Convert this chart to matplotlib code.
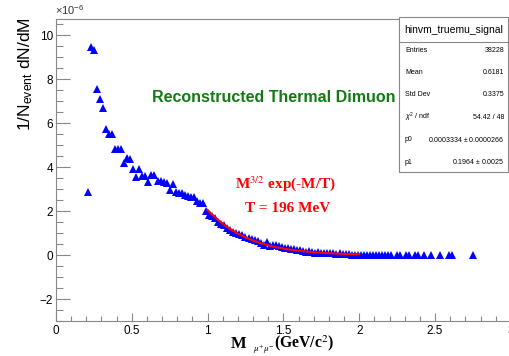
import numpy as np
import matplotlib
matplotlib.use('Agg')
import matplotlib.pyplot as plt
from matplotlib.patches import Rectangle
from matplotlib.lines import Line2D
from matplotlib.ticker import MultipleLocator

# reconstructed thermal dimuon spectrum (units of 1e-6)
mass = [0.21, 0.23, 0.25, 0.27, 0.29, 0.31, 0.33, 0.35, 0.37, 0.39,
        0.41, 0.43, 0.45, 0.47, 0.49, 0.51, 0.53, 0.55, 0.57, 0.59,
        0.61, 0.63, 0.65, 0.67, 0.69, 0.71, 0.73, 0.75, 0.77, 0.79,
        0.81, 0.83, 0.85, 0.87, 0.89, 0.91, 0.93, 0.95, 0.97, 0.99,
        1.01, 1.03, 1.05, 1.07, 1.09, 1.11, 1.13, 1.15, 1.17, 1.19,
        1.21, 1.23, 1.25, 1.27, 1.29, 1.31, 1.33, 1.35, 1.37, 1.39,
        1.41, 1.43, 1.45, 1.47, 1.49, 1.51, 1.53, 1.55, 1.57, 1.59,
        1.61, 1.63, 1.65, 1.67, 1.69, 1.71, 1.73, 1.75, 1.77, 1.79,
        1.81, 1.83, 1.85, 1.87, 1.89, 1.91, 1.93, 1.95, 1.97, 1.99,
        2.01, 2.03, 2.05, 2.07, 2.09, 2.11, 2.13, 2.15, 2.17, 2.19,
        2.21, 2.25, 2.27, 2.31, 2.33, 2.37, 2.39, 2.43, 2.47, 2.53,
        2.59, 2.61, 2.75]
dndm = [2.88, 9.47, 9.32, 7.56, 7.09, 6.67, 5.73, 5.51, 5.51, 4.82,
        4.82, 4.82, 4.20, 4.41, 4.38, 3.91, 3.53, 3.90, 3.59, 3.59,
        3.32, 3.65, 3.65, 3.38, 3.36, 3.30, 3.26, 2.95, 3.23, 2.88,
        2.83, 2.80, 2.73, 2.68, 2.65, 2.62, 2.47, 2.38, 2.35, 2.01,
        1.82, 1.77, 1.67, 1.52, 1.40, 1.36, 1.21, 1.14, 1.06, 1.01,
        0.95, 0.91, 0.83, 0.79, 0.71, 0.68, 0.62, 0.53, 0.45, 0.60,
        0.41, 0.45, 0.45, 0.40, 0.38, 0.32, 0.30, 0.27, 0.26, 0.23,
        0.23, 0.20, 0.15, 0.16, 0.12, 0.11, 0.15, 0.10, 0.08, 0.08,
        0.08, 0.07, 0.05, 0.08, 0.05, 0.05, 0.03, 0.02, 0.01, 0.01,
        0.01, 0.01, 0.00, 0.01, 0.00, 0.00, 0.00, 0.00, 0.00, 0.00,
        0.00, 0.01, 0.01, 0.01, 0.01, 0.01, 0.01, 0.01, 0.01, 0.01,
        0.01, 0.01, 0.01]

# fit parameters from the stats box
p0, p1 = 0.0003334, 0.1964
fit_range = (1.0, 2.0)

stat_title = 'hinvm_truemu_signal'
stat_names = ['Entries', 'Mean', 'Std Dev', r'$\chi^{2}$ / ndf', 'p0', 'p1']
stat_values = ['38228', '0.6181', '0.3375', '54.42 / 48',
               r'0.0003334 $\pm$ 0.0000266', r'0.1964 $\pm$ 0.0025']

W, H = 510, 356


def fx(px):
    return px / W


def fy(py):
    return 1 - py / H


plt.rcParams['font.family'] = ['Liberation Sans', 'DejaVu Sans']
plt.rcParams['mathtext.fontset'] = 'custom'
plt.rcParams['mathtext.rm'] = 'Liberation Sans'
plt.rcParams['mathtext.it'] = 'Liberation Sans:italic'
plt.rcParams['mathtext.bf'] = 'Liberation Sans:bold'

fig = plt.figure(figsize=(W / 100, H / 100), dpi=100)
ax = fig.add_axes([fx(55.9), fy(321), 455 / W, 302 / H])

ax.plot(mass, dndm, linestyle='none', marker='^', markersize=6,
        color='#0000ff', markeredgewidth=0)

m_fit = np.linspace(*fit_range, 300)
ax.plot(m_fit, p0 * m_fit ** 1.5 * np.exp(-m_fit / p1) * 1e6,
        color='#ff0000', linewidth=1.5)

ax.set_xlim(0, 3)
ax.set_ylim(-3, 10.73)
ax.xaxis.set_major_locator(MultipleLocator(0.5))
ax.xaxis.set_minor_locator(MultipleLocator(0.1))
ax.yaxis.set_major_locator(MultipleLocator(2))
ax.yaxis.set_minor_locator(MultipleLocator(0.5))
ax.set_xticks([0, 0.5, 1, 1.5, 2, 2.5, 3])
ax.set_xticklabels(['0', '0.5', '1', '1.5', '2', '2.5', '3'])

for s in ['top', 'bottom', 'left']:
    ax.spines[s].set_color('#888888')
ax.spines['right'].set_visible(False)
ax.tick_params(axis='y', which='major', direction='in', length=10, width=0.8,
               color='#888888', labelsize=8.5, pad=2)
ax.tick_params(axis='y', which='minor', direction='in', length=5, width=0.8,
               color='#888888')
ax.tick_params(axis='x', which='major', direction='in', length=6, width=0.8,
               color='#888888', labelsize=8.5, pad=3)
ax.tick_params(axis='x', which='minor', direction='in', length=3.5, width=0.8,
               color='#888888')

fig.text(fx(55), fy(10), r'$\times$10$^{-6}$', fontsize=8, color='#333333',
         ha='left', va='center')

fig.text(fx(26), fy(17), r'1/N$_{\mathregular{event}}$ dN/dM', rotation=90,
         fontsize=12.5, ha='center', va='top')

# x axis title, built from pieces like the ROOT latex layout
fig.text(fx(231), fy(344), 'M', fontsize=12, fontweight='bold',
         family='Liberation Serif', ha='left', va='center')
fig.text(fx(253), fy(349), r'$\mu^{+}\mu^{-}$', fontsize=6.5,
         math_fontfamily='stix', ha='left', va='center')
fig.text(fx(334), fy(343.5), r'(GeV/c$^{2}$)', fontsize=11.3,
         fontweight='bold', family='Liberation Serif', math_fontfamily='stix',
         ha='right', va='center')

fig.text(fx(274), fy(98), 'Reconstructed Thermal Dimuon', fontsize=11.5,
         fontweight='bold', color='#137a13', ha='center', va='center')

fig.text(fx(286), fy(184), r'M$^{3/2}$ exp(-M/T)', fontsize=11,
         fontweight='bold', family='Liberation Serif', math_fontfamily='stix',
         color='#ff0000', ha='center', va='center')
fig.text(fx(288), fy(208), 'T = 196 MeV', fontsize=11, fontweight='bold',
         family='Liberation Serif', color='#ff0000', ha='center', va='center')

# stats box
box_l, box_r, box_t, box_b = 399, 508, 17, 172
fig.patches.append(Rectangle((fx(box_l), fy(box_b)), (box_r - box_l) / W,
                             (box_b - box_t) / H, transform=fig.transFigure,
                             facecolor='white', edgecolor='#888888',
                             linewidth=0.8, zorder=5))
fig.lines.append(Line2D([fx(box_l), fx(box_r)], [fy(42), fy(42)],
                        transform=fig.transFigure, color='#888888',
                        linewidth=0.8, zorder=6))
fig.text(fx((box_l + box_r) / 2), fy(30), stat_title, fontsize=7.5,
         ha='center', va='center', zorder=7)
for i, (name, val) in enumerate(zip(stat_names, stat_values)):
    row_y = 50 + i * 22.4
    fig.text(fx(405), fy(row_y), name, fontsize=5, ha='left', va='center',
             zorder=7)
    fig.text(fx(504), fy(row_y), val, fontsize=5, ha='right', va='center',
             zorder=7)

fig.savefig('out.png', dpi=100)
